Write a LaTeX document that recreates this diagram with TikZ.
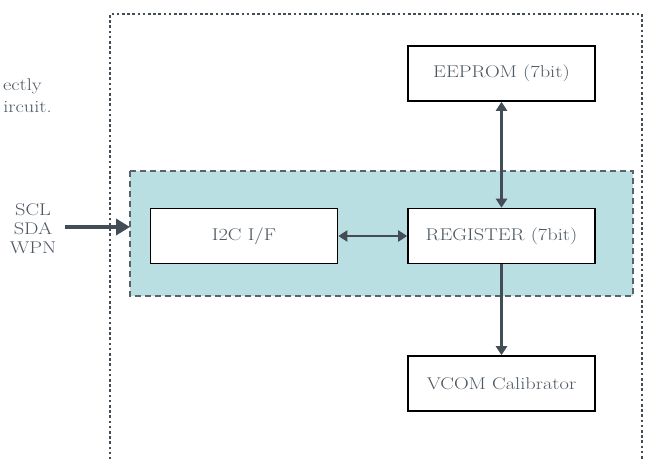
\documentclass[tikz,border=0pt]{standalone}
\usepackage{graphicx}
\usetikzlibrary{arrows.meta}
\definecolor{arr}{HTML}{434D56}
\definecolor{txt}{HTML}{4E5862}
\definecolor{tealfill}{HTML}{B9DFE2}
\definecolor{dashc}{HTML}{5A6168}
\newcommand{\wtxt}[1]{\scalebox{1.2}[1]{#1}}
\begin{document}
\begin{tikzpicture}[x=1pt,y=-1pt,
  blockbox/.style={draw=black,line width=1.6pt,fill=white,minimum width=187pt,minimum height=55pt,font=\fontsize{17}{19}\selectfont,text=txt,inner sep=0pt},
  link/.style={draw=arr,line width=2.6pt,-{Triangle[length=9pt,width=11pt]}},
  dlink/.style={draw=arr,line width=2.6pt,{Triangle[length=9pt,width=11pt]}-{Triangle[length=9pt,width=11pt]}},
  lbl/.style={text=txt,font=\fontsize{17}{19}\selectfont,inner sep=0pt}
]
\useasboundingbox (0,0) rectangle (647,458);
\clip (0,0) rectangle (647,458);
% outer dotted boundary
\draw[arr,line width=2.6pt,dash pattern=on 2.6pt off 2.6pt] (110,470) -- (110,14) -- (642,14) -- (642,470);
% teal group
\draw[dashc,fill=tealfill,line width=1.2pt,dash pattern=on 6pt off 4pt] (130,171) rectangle (633,296);
% blocks
\node[blockbox] (eep) at (501.5,73.5) {\wtxt{EEPROM (7bit)}};
\node[blockbox] (i2c) at (244,236) {\wtxt{I2C I/F}};
\node[blockbox] (reg) at (501.5,236) {\wtxt{REGISTER (7bit)}};
\node[blockbox] (vcom) at (501.5,383.5) {\wtxt{VCOM Calibrator}};
% connectors
\draw[dlink] (eep) -- (reg);
\draw[dlink] (i2c) -- (reg);
\draw[link] (reg) -- (vcom);
% input
\node[lbl,align=center] (sig) at (33,229) {\wtxt{SCL}\\[0pt]\wtxt{SDA}\\[0pt]\wtxt{WPN}};
\coordinate (inS) at (65,227);
\coordinate (inE) at (130,227);
\draw[draw=arr,line width=4.8pt,-{Triangle[length=14pt,width=16pt]}] (inS) -- (inE);
% clipped note text
\node[lbl,anchor=base east] (n1) at (42,90) {\wtxt{ectly}};
\node[lbl,anchor=base east] (n2) at (52,112) {\wtxt{ircuit.}};
\end{tikzpicture}
\end{document}
